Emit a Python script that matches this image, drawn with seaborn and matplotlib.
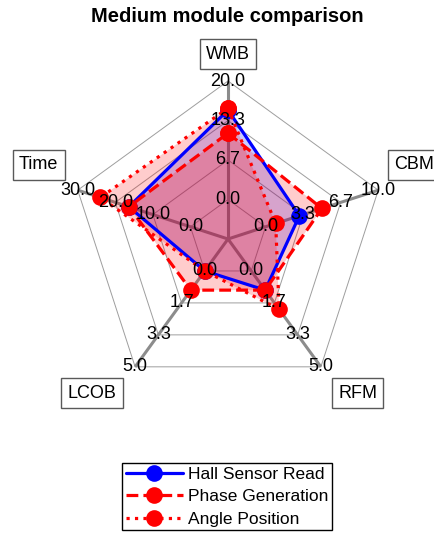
import numpy as np
import pandas as pd
import matplotlib
matplotlib.use("Agg")
import matplotlib.pyplot as plt
import seaborn as sns

# ---------------- data ----------------
title = "Medium module comparison"
axes_labels = ["WMB", "CBM", "RFM", "LCOB", "Time"]
axes_max = [20.0, 10.0, 5.0, 5.0, 30.0]
series_names = ["Hall Sensor Read", "Phase Generation", "Angle Position"]
hall_sensor_read = [15.1, 3.0, 1.0, 0.0, 16.4]
phase_generation = [11.2, 5.0, 1.0, 1.0, 16.4]
angle_position = [15.4, 0.9, 2.0, 0.0, 24.0]
ring_fracs = [0.25, 0.5, 0.75, 1.0]

# ---------------- style ----------------
sns.set_theme(style="white")
plt.rcParams["font.family"] = ["Liberation Sans", "DejaVu Sans"]
plt.rcParams["text.color"] = "black"

series_values = [hall_sensor_read, phase_generation, angle_position]
series_colors = ["#0000ff", "#ff0000", "#ff0000"]
series_styles = ["-", "--", ":"]

# anchors of the axis-label text (in units of outer radius) and alignment
label_anchor = {
    "WMB": (0.0, 1.117, "center", "bottom"),
    "CBM": (1.054, 0.415, "left", "bottom"),
    "RFM": (0.697, -0.921, "left", "top"),
    "LCOB": (-0.706, -0.921, "right", "top"),
    "Time": (-1.073, 0.415, "right", "bottom"),
}

W, H = 435, 534
cx, cy, R = 228, 239, 158
fig = plt.figure(figsize=(W / 100, H / 100), dpi=100)
ax = fig.add_axes([0, 0, 1, 1])
ax.set_xlim(-cx / R, (W - cx) / R)
ax.set_ylim(-(H - cy) / R, cy / R)
ax.axis("off")

n = len(axes_labels)
theta = np.pi / 2 - 2 * np.pi * np.arange(n) / n
ct, st = np.cos(theta), np.sin(theta)

# web rings
for f in ring_fracs:
    ax.plot(np.r_[f * ct, f * ct[0]], np.r_[f * st, f * st[0]],
            color="0.62", lw=0.7, zorder=1)
# spokes
for i in range(n):
    ax.plot([0, ct[i]], [0, st[i]], color="0.55", lw=2.2, zorder=1.5,
            solid_capstyle="butt")

# series
for name, vals, col, ls in zip(series_names, series_values, series_colors, series_styles):
    frac = 0.25 + 0.75 * np.asarray(vals) / np.asarray(axes_max)
    xs = np.r_[frac * ct, frac[0] * ct[0]]
    ys = np.r_[frac * st, frac[0] * st[0]]
    ax.fill(xs, ys, color=col, alpha=0.2, lw=0, zorder=2)
    df = pd.DataFrame({"x": xs, "y": ys})
    sns.lineplot(data=df, x="x", y="y", sort=False, estimator=None, ax=ax,
                 color=col, linestyle=ls, lw=2.3, marker="o", markersize=12,
                 markeredgewidth=0, markerfacecolor=col, label=name, zorder=3)

# tick labels
for i in range(n):
    for f in ring_fracs:
        v = axes_max[i] * (f - 0.25) / 0.75
        ax.text(f * ct[i], f * st[i], f"{v:.1f}", ha="center", va="center",
                fontsize=13, color="black", zorder=10)

# axis labels
for lab in axes_labels:
    x, y, ha, va = label_anchor[lab]
    ax.text(x, y, lab, ha=ha, va=va, fontsize=13, color="black", zorder=10,
            clip_on=False,
            bbox=dict(boxstyle="square,pad=0.35", fc="white", ec="0.35", lw=1.0))

fig.text(0.522, 1 - 16 / H, title, ha="center", va="center",
         fontsize=14.5, fontweight="bold", color="black")

handles, labels = ax.get_legend_handles_labels()
leg = ax.legend(handles, labels, loc="center", bbox_to_anchor=(0.522, 0.070),
                bbox_transform=fig.transFigure, fontsize=12.5, frameon=True,
                fancybox=False, framealpha=1, edgecolor="black",
                handlelength=3.3, handletextpad=0.3, labelspacing=0.42,
                borderpad=0.22, borderaxespad=0)
leg.get_frame().set_linewidth(1.0)
for t in leg.get_texts():
    t.set_color("black")

fig.savefig("out.png", dpi=100)
